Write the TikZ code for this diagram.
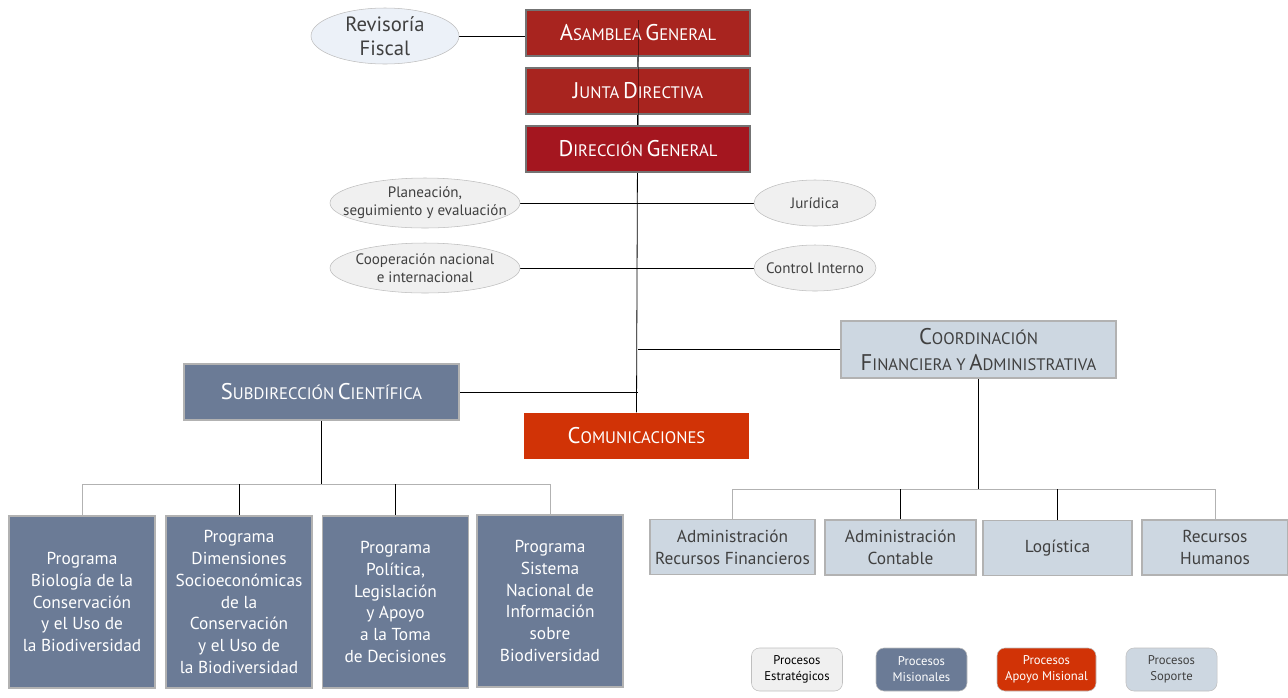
\documentclass[tikz,border=0pt]{standalone}
\usepackage{fontspec}
\setmainfont{PT Sans}
\usetikzlibrary{positioning, shapes.geometric, backgrounds}
\definecolor{rojoA}{HTML}{A8241F}
\definecolor{rojoD}{HTML}{A4161F}
\definecolor{naranja}{HTML}{D13306}
\definecolor{azulM}{HTML}{6B7B96}
\definecolor{azulS}{HTML}{CDD7E1}
\definecolor{grisE}{HTML}{F0F0F0}
\definecolor{azulE}{HTML}{ECF1F8}
\definecolor{grisT}{HTML}{404040}
\definecolor{grisB}{HTML}{BDBDBD}
\newcommand{\fsc}[2]{{\fontsize{17}{20}\selectfont #1}{\fontsize{12.5}{15}\selectfont #2}}
\tikzstyle{caja}=[rectangle, draw=black!55, line width=0.8pt, inner sep=0pt, align=center]
\tikzstyle{roja}=[caja, fill=rojoA, text=white, minimum width=224*0.75pt, minimum height=46*0.75pt]
\tikzstyle{elip}=[ellipse, draw=grisB, fill=grisE, inner xsep=-14pt, inner ysep=-4pt, align=center, text=grisT, font=\fontsize{11.3}{13.5}\selectfont]
\tikzstyle{prog}=[caja, draw=black!30, fill=azulM, text=white, minimum width=146*0.75pt, minimum height=172*0.75pt, font=\fontsize{13}{16.4}\selectfont]
\tikzstyle{sop}=[caja, draw=black!30, fill=azulS, text=grisT, minimum height=55*0.75pt, font=\fontsize{13}{16.4}\selectfont]
\tikzstyle{leyenda}=[rectangle, rounded corners=6pt, draw=black!25, inner sep=0pt, align=center, minimum width=91*0.75pt, minimum height=43*0.75pt, font=\fontsize{9.5}{12}\selectfont]
\tikzstyle{linea}=[black, line width=0.6pt]
\tikzstyle{lineagris}=[black!30, line width=0.6pt]

\begin{document}
\begin{tikzpicture}[x=0.75pt, y=-0.75pt]
\useasboundingbox (0,0) rectangle (1288,697);
% cuerpo directivo
\node [roja] (asa) at (638,33) {\fsc{A}{SAMBLEA} \fsc{G}{ENERAL}};
\node [roja] (jun) at (638,91) {\fsc{J}{UNTA} \fsc{D}{IRECTIVA}};
\node [roja, fill=rojoD] (dir) at (638,149) {\fsc{D}{IRECCIÓN} \fsc{G}{ENERAL}};
\node [elip, fill=azulE, inner sep=-2pt, minimum width=148*0.75pt, minimum height=56*0.75pt, font=\fontsize{15.5}{18}\selectfont] (rev) at (385,36) {Revisoría\\Fiscal};
\coordinate (t0) at (638,20);
% oficinas asesoras
\node [elip, minimum width=190*0.75pt, minimum height=50*0.75pt] (pla) at (425,203) {Planeación,\\seguimiento y evaluación};
\node [elip, minimum width=122*0.75pt, minimum height=46*0.75pt] (jur) at (815,203) {Jurídica};
\node [elip, minimum width=190*0.75pt, minimum height=50*0.75pt] (coo) at (425,268) {Cooperación nacional\\e internacional};
\node [elip, minimum width=122*0.75pt, minimum height=46*0.75pt] (con) at (815,268) {Control Interno};
% subdirecciones
\node [caja, draw=black!30, fill=azulS, text=grisT, minimum width=275*0.75pt, minimum height=57*0.75pt] (cfa) at (978.5,349.5) {\fsc{C}{OORDINACIÓN}\\[6pt]\fsc{F}{INANCIERA Y} \fsc{A}{DMINISTRATIVA}};
\node [caja, draw=black!30, fill=azulM, text=white, minimum width=275*0.75pt, minimum height=56*0.75pt] (sub) at (321.5,392) {\fsc{S}{UBDIRECCIÓN} \fsc{C}{IENTÍFICA}};
\node [caja, draw=none, fill=naranja, text=white, minimum width=225*0.75pt, minimum height=46*0.75pt] (com) at (636.5,436) {\fsc{C}{OMUNICACIONES}};
% programas
\node [prog] (p1) at (82,602) {Programa\\Biología de la\\Conservación\\y el Uso de\\la Biodiversidad};
\node [prog] (p2) at (239,602) {Programa\\Dimensiones\\Socioeconómicas\\de la\\Conservación\\y el Uso de\\la Biodiversidad};
\node [prog] (p3) at (395.5,602) {Programa\\Política,\\Legislación\\y Apoyo\\a la Toma\\de Decisiones};
\node [prog] (p4) at (550,601) {Programa\\Sistema\\Nacional de\\Información\\sobre\\Biodiversidad};
% soporte
\node [sop, minimum width=165*0.75pt] (a1) at (732.5,547) {Administración\\Recursos Financieros};
\node [sop, minimum width=151*0.75pt] (a2) at (900.5,547.5) {Administración\\Contable};
\node [sop, minimum width=149*0.75pt] (a3) at (1057.5,548) {Logística};
\node [sop, minimum width=146*0.75pt] (a4) at (1215,547.5) {Recursos\\Humanos};
\coordinate (busS) at (319,484);
\coordinate (busC) at (978,489);
% leyenda
\node [leyenda, fill=grisE, text=black] (l1) at (797,669.5) {Procesos\\Estratégicos};
\node [leyenda, fill=azulM, text=white] (l2) at (921.5,669.5) {Procesos\\Misionales};
\node [leyenda, fill=naranja, text=white, minimum width=99*0.75pt] (l3) at (1046.5,669.5) {Procesos\\Apoyo Misional};
\node [leyenda, fill=azulS, text=grisT] (l4) at (1171.5,669.5) {Procesos\\Soporte};
\begin{scope}[on background layer]
\draw [linea] (t0) -- (com.north);
\draw [linea] (rev.east) -- (rev.east -| asa.west);
\draw [linea] (pla.east) -- (jur.west) (coo.east) -- (con.west);
\draw [linea] (cfa.west) -- (cfa.west -| t0) (sub.east) -- (sub.east -| t0);
\draw [linea] (sub.south) -- (sub.south |- busS) (cfa.south) -- (cfa.south |- busC);
\draw [lineagris] (p1.north) -- (p1.north |- busS) -- (p4.north |- busS) -- (p4.north);
\draw [linea] (p2.north) -- (p2.north |- busS) (p3.north) -- (p3.north |- busS);
\draw [lineagris] (a1.north) -- (a1.north |- busC) -- (a4.north |- busC) -- (a4.north);
\draw [linea] (a2.north) -- (a2.north |- busC) (a3.north) -- (a3.north |- busC);
\end{scope}
\draw [linea, opacity=0.45] (t0) -- (dir.north);
\end{tikzpicture}
\end{document}
